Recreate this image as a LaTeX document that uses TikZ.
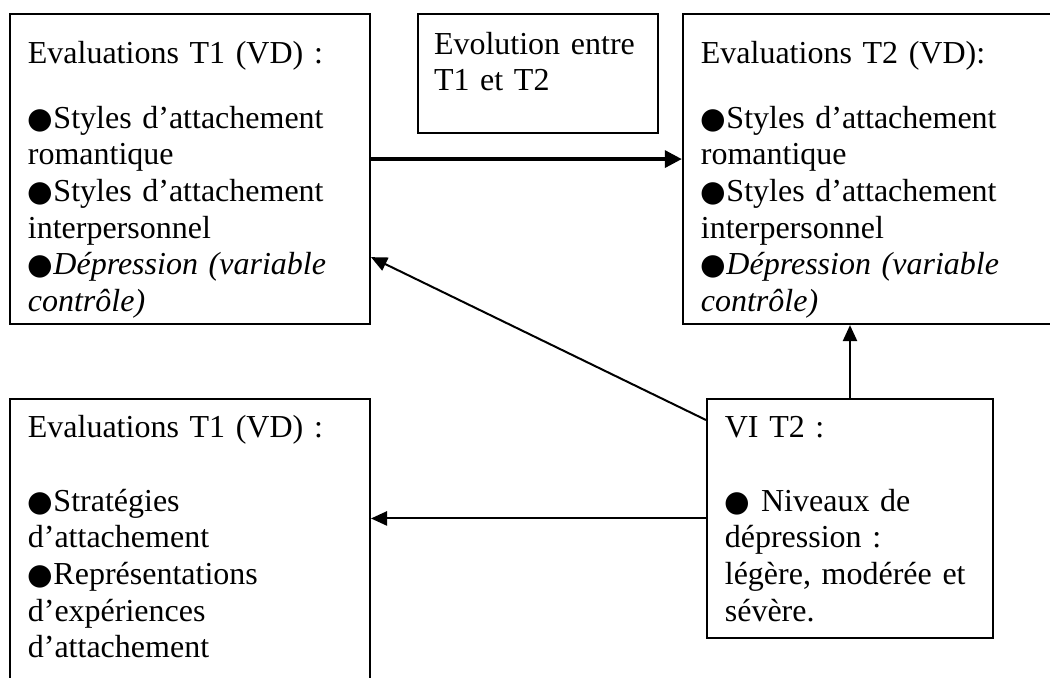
\documentclass[tikz,border=0pt]{standalone}
\usepackage{fontspec}
\setmainfont{Liberation Serif}
\newfontfamily\symfont{DejaVu Sans}
\newcommand\blt{{\symfont\fontsize{11pt}{13.75pt}\selectfont ●}}
\usetikzlibrary{arrows.meta}

\begin{document}
\begin{tikzpicture}[
        x=0.375pt, y=0.375pt,
        panel/.style={draw, line width=0.75pt, anchor=north west, align=left,
            inner xsep=6.7pt, inner ysep=0pt,
            font=\fontsize{12pt}{13.75pt}\selectfont},
        wide panel/.style={panel, text width=121.6pt},
        thin edge/.style={draw, line width=0.75pt, -{Triangle[length=6pt, width=5.3pt]}},
        thick edge/.style={draw, line width=1.7pt, -{Triangle[length=6.4pt, width=6.2pt]}}
    ]
	\clip (0,0) rectangle (1050,-678);
	\node[wide panel, text height=18.4pt, text depth=97.9pt] (t1) at (9,-13)
	    {Evaluations T1 (VD) :\\[10.6pt]
	     \blt Styles d’attachement\\ romantique\\
	     \blt Styles d’attachement\\ interpersonnel\\
	     \blt\textit{Dépression (variable}\\ \textit{contrôle)}};
	\node[panel, inner xsep=6pt, text width=78pt, text height=15pt, text depth=29.6pt] (evol) at (417,-13)
	    {Evolution entre\\ T1 et T2};
	\node[panel, text width=128.35pt, text height=18.4pt, text depth=97.9pt] (t2) at (682,-13)
	    {Evaluations T2 (VD):\\[10.6pt]
	     \blt Styles d’attachement\\ romantique\\
	     \blt Styles d’attachement\\ interpersonnel\\
	     \blt\textit{Dépression (variable}\\ \textit{contrôle)}};
	\node[wide panel, text height=14.6pt, text depth=94.9pt] (t1b) at (9,-398)
	    {Evaluations T1 (VD) :\\[13.65pt]
	     \blt Stratégies\\ d’attachement\\
	     \blt Représentations\\ d’expériences\\ d’attachement};
	\node[panel, text width=93.85pt, text height=14.6pt, text depth=75pt] (vi) at (706,-398)
	    {VI T2 :\\[13.65pt]
	     \blt{} Niveaux de\\ dépression :\\ légère, modérée et\\ sévère.};
	\draw[thick edge] ([yshift=3.75pt]t1.east) -- ([yshift=3.75pt]t2.west);
	\draw[thin edge] ([yshift=-8.25pt]vi.north west) -- ([yshift=25.5pt]t1.south east);
	\draw[thin edge] (vi.west) -- (vi.west -| t1b.east);
	\draw[thin edge] (vi.north) -- (vi.north |- t2.south);
    \end{tikzpicture}
\end{document}
